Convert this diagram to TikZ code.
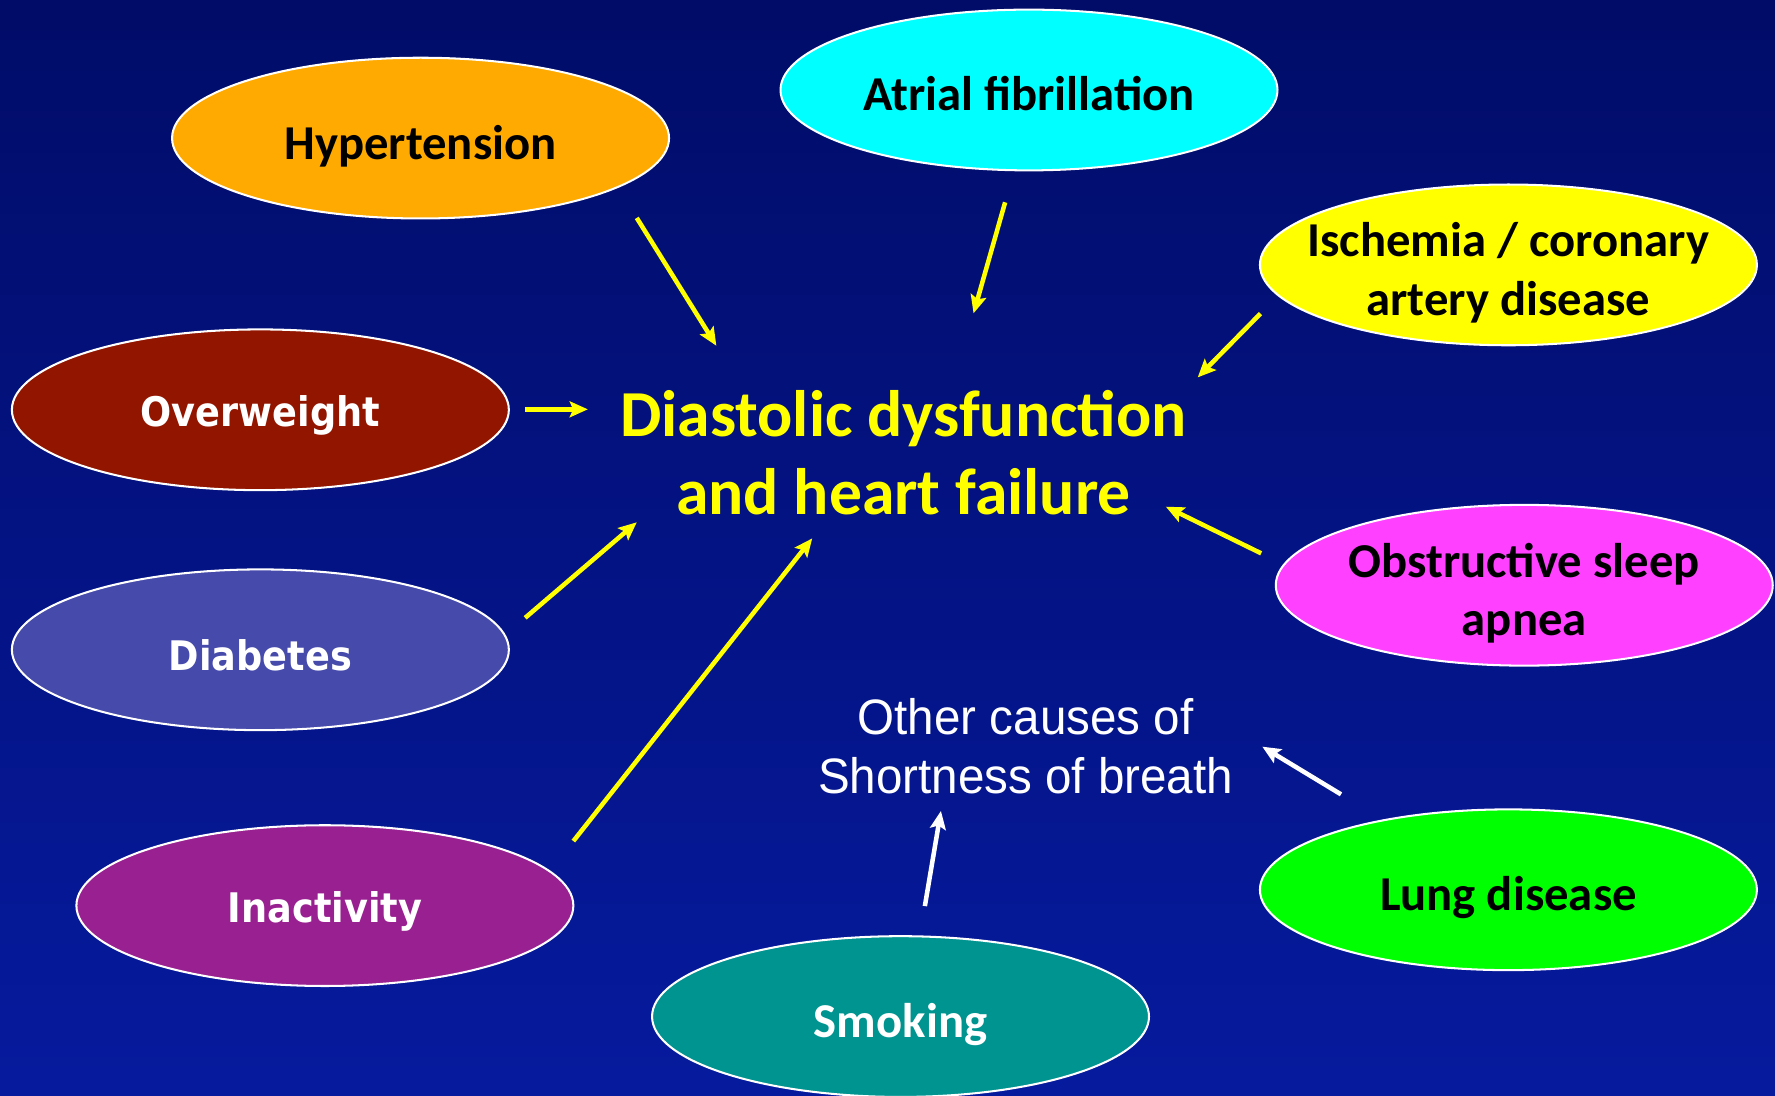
\documentclass[tikz,border=0pt]{standalone}
\usepackage{fontspec}
\setmainfont{Carlito}
\newfontfamily\labfont{Carlito}
\newfontfamily\wfont[FakeStretch=0.9]{DejaVu Sans}
\newfontfamily\arialfont[FakeStretch=0.955]{Liberation Sans}
\usetikzlibrary{shapes.geometric,arrows.meta}
\definecolor{bgtop}{RGB}{1,12,104}
\definecolor{bgbot}{RGB}{6,26,158}
\definecolor{cOrange}{RGB}{255,170,0}
\definecolor{cCyan}{RGB}{0,255,255}
\definecolor{cYellow}{RGB}{255,255,0}
\definecolor{cRed}{RGB}{146,21,0}
\definecolor{cBlue}{RGB}{70,74,170}
\definecolor{cMagenta}{RGB}{255,64,255}
\definecolor{cPurple}{RGB}{153,32,144}
\definecolor{cGreen}{RGB}{0,255,0}
\definecolor{cTeal}{RGB}{0,148,144}
\tikzset{
  bubble/.style={ellipse, draw=white, line width=1.8pt, minimum width=439pt, minimum height=142pt, inner sep=0pt, fill=#1},
  blk/.style={text=black, align=center, yshift=-7pt, font=\labfont\bfseries\fontsize{43}{51.6}\selectfont},
  wht/.style={text=white, align=center, yshift=-5pt, font=\wfont\bfseries\fontsize{36}{42}\selectfont},
  whtc/.style={text=white, align=center, yshift=-7pt, font=\labfont\bfseries\fontsize{43}{51.6}\selectfont},
  yarrow/.style={draw=cYellow, line width=4pt, -{Stealth[length=16pt,width=14pt,inset=3pt]}},
  warrow/.style={draw=white, line width=4pt, -{Stealth[length=16pt,width=14pt,inset=3pt]}}
}
\begin{document}
\begin{tikzpicture}[x=1pt,y=-1pt]
\shade[top color=bgtop, bottom color=bgbot] (0,0) rectangle (1568,968);
\useasboundingbox (0,0) rectangle (1568,968);

\node[bubble=cOrange, label={[blk]center:Hypertension}] (hyp) at (371.5,122) {};
\node[bubble=cCyan, label={[blk, yshift=4pt]center:Atrial fibrillation}] (af) at (909,79.5) {};
\node[bubble=cYellow, label={[blk]center:{Ischemia / coronary\\artery disease}}] (isch) at (1332.5,234) {};
\node[bubble=cRed, label={[wht]center:Overweight}] (ow) at (230,362) {};
\node[bubble=cBlue, label={[wht]center:Diabetes}] (diab) at (230,574) {};
\node[bubble=cMagenta, label={[blk]center:{Obstructive sleep\\apnea}}] (osa) at (1346.5,517) {};
\node[bubble=cPurple, label={[wht]center:Inactivity}] (inact) at (287,800) {};
\node[bubble=cGreen, label={[blk]center:Lung disease}] (lung) at (1332.5,786) {};
\node[bubble=cTeal, label={[whtc]center:Smoking}] (smok) at (795.5,898) {};

\node[text=cYellow, align=center, font=\labfont\bfseries\fontsize{58}{69}\selectfont] (dd) at (798,400) {Diastolic dysfunction\\and heart failure};
\node[text=white, align=center, font=\arialfont\fontsize{44}{52}\selectfont] (oc) at (906,659) {Other causes of\\Shortness of breath};

\coordinate (hypS) at (562.5,192.5);  \coordinate (hypE) at (632.8,305.4);
\coordinate (afS) at (887.9,178.7);   \coordinate (afE) at (860,276.8);
\coordinate (ischS) at (1113.5,277);  \coordinate (ischE) at (1058,333.4);
\coordinate (owS) at (464.2,361.6);   \coordinate (owE) at (519.3,361.6);
\coordinate (diabS) at (463.9,545.8); \coordinate (diabE) at (562.5,461.4);
\coordinate (inS) at (506.5,743);     \coordinate (inE) at (717.5,475.6);
\coordinate (osaS) at (1114.1,488.8); \coordinate (osaE) at (1029.9,447.6);
\coordinate (smS) at (817,800.4);     \coordinate (smE) at (831.2,716.4);
\coordinate (luS) at (1184.6,701.7);  \coordinate (luE) at (1115.1,659.6);

\draw[yarrow] (hypS) -- (hypE);
\draw[yarrow] (afS) -- (afE);
\draw[yarrow] (ischS) -- (ischE);
\draw[yarrow] (owS) -- (owE);
\draw[yarrow] (diabS) -- (diabE);
\draw[yarrow] (inS) -- (inE);
\draw[yarrow] (osaS) -- (osaE);
\draw[warrow] (smS) -- (smE);
\draw[warrow] (luS) -- (luE);
\end{tikzpicture}
\end{document}
